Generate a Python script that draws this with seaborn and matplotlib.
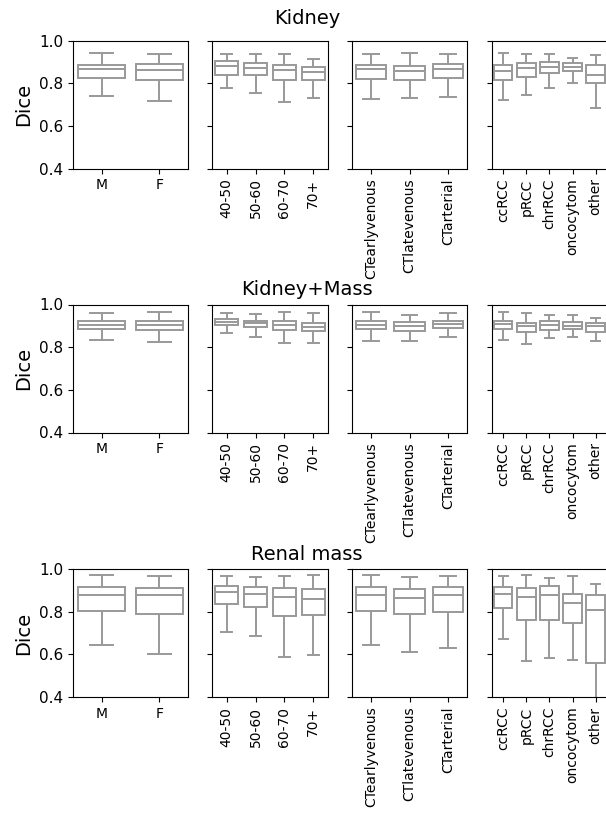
import numpy as np
import pandas as pd
import matplotlib
matplotlib.use("Agg")
import matplotlib.pyplot as plt
import seaborn as sns

# categories per column
sex = ["M", "F"]
age = ["40-50", "50-60", "60-70", "70+"]
phase = ["CTearlyvenous", "CTlatevenous", "CTarterial"]
subtype = ["ccRCC", "pRCC", "chrRCC", "oncocytom", "other"]

# five-number summaries: [min, q1, median, q3, max]
kidney_sex = [[0.740, 0.826, 0.866, 0.888, 0.944],
              [0.717, 0.818, 0.863, 0.891, 0.936]]
kidney_age = [[0.776, 0.841, 0.880, 0.904, 0.936],
              [0.754, 0.840, 0.874, 0.897, 0.936],
              [0.713, 0.815, 0.862, 0.888, 0.936],
              [0.731, 0.817, 0.855, 0.876, 0.916]]
kidney_phase = [[0.725, 0.821, 0.866, 0.888, 0.936],
                [0.731, 0.817, 0.857, 0.882, 0.944],
                [0.734, 0.826, 0.869, 0.893, 0.936]]
kidney_subtype = [[0.720, 0.817, 0.860, 0.887, 0.944],
                  [0.745, 0.831, 0.873, 0.894, 0.936],
                  [0.776, 0.849, 0.879, 0.901, 0.936],
                  [0.803, 0.859, 0.879, 0.897, 0.921],
                  [0.683, 0.804, 0.837, 0.887, 0.932]]

km_sex = [[0.834, 0.885, 0.905, 0.921, 0.961],
          [0.823, 0.880, 0.904, 0.924, 0.966]]
km_age = [[0.865, 0.904, 0.918, 0.930, 0.961],
          [0.848, 0.894, 0.911, 0.924, 0.956],
          [0.818, 0.879, 0.902, 0.921, 0.966],
          [0.818, 0.876, 0.896, 0.915, 0.961]]
km_phase = [[0.831, 0.883, 0.904, 0.921, 0.966],
            [0.831, 0.877, 0.897, 0.916, 0.952],
            [0.846, 0.890, 0.910, 0.924, 0.961]]
km_subtype = [[0.834, 0.887, 0.908, 0.924, 0.966],
              [0.817, 0.873, 0.901, 0.915, 0.961],
              [0.841, 0.882, 0.902, 0.924, 0.952],
              [0.846, 0.887, 0.901, 0.916, 0.949],
              [0.831, 0.873, 0.899, 0.915, 0.938]]

mass_sex = [[0.642, 0.805, 0.877, 0.914, 0.972],
            [0.603, 0.789, 0.877, 0.912, 0.969]]
mass_age = [[0.705, 0.834, 0.894, 0.922, 0.967],
            [0.688, 0.823, 0.881, 0.917, 0.961],
            [0.589, 0.781, 0.869, 0.912, 0.969],
            [0.597, 0.783, 0.861, 0.906, 0.972]]
mass_phase = [[0.642, 0.805, 0.877, 0.914, 0.972],
              [0.609, 0.789, 0.864, 0.908, 0.964],
              [0.630, 0.797, 0.877, 0.914, 0.967]]
mass_subtype = [[0.672, 0.816, 0.883, 0.917, 0.969],
                [0.567, 0.761, 0.870, 0.911, 0.972],
                [0.581, 0.759, 0.877, 0.922, 0.956],
                [0.575, 0.745, 0.842, 0.884, 0.967],
                [0.300, 0.561, 0.808, 0.880, 0.931]]

row_titles = ["Kidney", "Kidney+Mass", "Renal mass"]
col_cats = [sex, age, phase, subtype]
rows = [[kidney_sex, kidney_age, kidney_phase, kidney_subtype],
        [km_sex, km_age, km_phase, km_subtype],
        [mass_sex, mass_age, mass_phase, mass_subtype]]

W, H = 606, 816
fig = plt.figure(figsize=(W / 100, H / 100), dpi=100)

row_tops = [40.7, 304.5, 569]
col_lefts = [72.7, 212.2, 351.7, 491.6]
ax_w, ax_h = 115.6, 128
title_y = [18, 289, 554]

for r in range(3):
    for c in range(4):
        left = col_lefts[c] / W
        bottom = 1 - (row_tops[r] + ax_h) / H
        ax = fig.add_axes([left, bottom, ax_w / W, ax_h / H])
        cats = col_cats[c]
        stats = rows[r][c]
        df = pd.DataFrame({
            "group": np.repeat(cats, 5),
            "Dice": np.concatenate(stats),
        })
        sns.boxplot(data=df, x="group", y="Dice", order=cats, ax=ax,
                    color="white", linecolor="#999999", linewidth=1.4,
                    whis=(0, 100), showfliers=False, width=0.8)
        ax.set_ylim(0.4, 1.0)
        ax.set_yticks([0.4, 0.6, 0.8, 1.0])
        ax.set_xlabel("")
        ax.tick_params(axis="y", labelsize=11)
        ax.tick_params(axis="x", labelsize=10)
        if c == 0:
            ax.set_ylabel("Dice", fontsize=14)
        else:
            ax.set_ylabel("")
            ax.set_yticklabels([])
            ax.tick_params(axis="x", labelrotation=90)
    fig.text(307 / W, 1 - title_y[r] / H, row_titles[r], fontsize=14,
             ha="center", va="center")

plt.savefig("out.png", dpi=100)
